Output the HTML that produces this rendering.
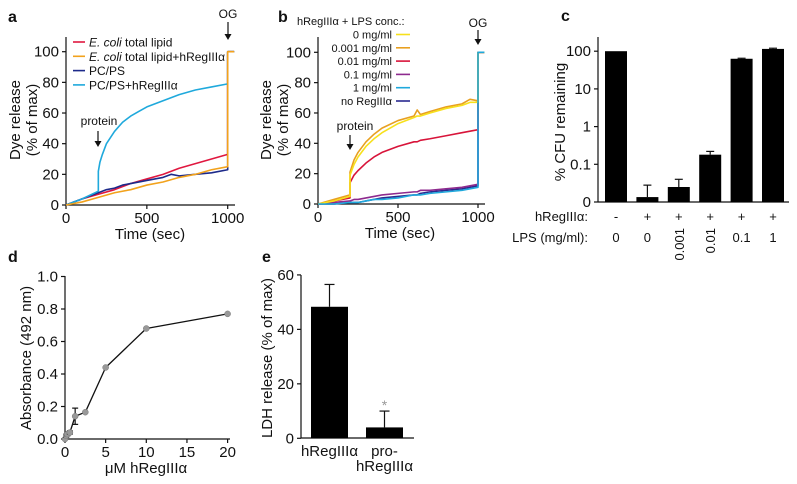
<!DOCTYPE html>
<html><head><meta charset="utf-8"><style>
html,body{margin:0;padding:0;background:#fff}
svg{display:block;font-family:"Liberation Sans",Arial,sans-serif}
</style></head><body>
<svg id="fig" width="797" height="484" viewBox="0 0 797 484" xmlns="http://www.w3.org/2000/svg"></svg>
<script>
// ---------- Panel a data ----------
const aRedT=[0,100,200,300,400,500,600,700,800,900,1000,1000,1040];
const aRedV=[0,4,7,10,14,17,20,24,27,30,33,100,100];
const aOrT=[0,100,200,300,400,500,600,700,800,900,1000,1000,1040];
const aOrV=[0,2,5,8,10,13,15,18,20,23,25,100,100];
const aNavT=[0,50,100,150,200,250,300,350,400,500,600,650,700,800,900,1000,1000,1040];
const aNavV=[0,2,4,6,8,10,11,13,14,16,18,20,19,20,21,23,100,100];
const aCyT=[0,100,200,200,210,225,250,300,350,400,450,500,600,700,800,900,1000,1000,1040];
const aCyV=[0,4,9,22,28,33,40,48,54,58,61,64,68,72,75,77,79,100,100];
const aXTicks=[0,500,1000];
const aYTicks=[0,20,40,60,80,100];
// ---------- Panel b data ----------
const bT=[0,100,200,200,225,250,300,350,400,500,600,620,640,700,800,900,950,1000,1000,1040];
const bYel=[0,2,5,19,26,31,38,43,47,53,57,58,58,60,63,65,67,67,100,100];
const bOr=[0,3,6,21,29,34,41,46,50,55,58,62,59,61,64,66,69,68,100,100];
const bRed=[0,2,4,14,19,22,27,31,34,38,41,41,42,43,45,47,48,49,100,100];
const bPur=[0,1,2,2,3,3,4,5,6,7,8,8,9,9,10,11,12,13,100,100];
const bCy=[0,0,1,1,1,1,2,3,3,4,6,6,6,7,8,9,10,11,100,100];
const bNav=[0,0,1,1,1,1,2,3,4,5,6,6,7,8,9,10,11,12,100,100];
// ---------- Panel c data ----------
const cVals=[100,0.0135,0.025,0.18,63,115];
const cErr=[100,0.028,0.04,0.22,65,120];
const cReg=['-','+','+','+','+','+'];
const cLps=['0','0','0.001','0.01','0.1','1'];
const cYTicks=[0.01,0.1,1,10,100];
const cYLabels=['0','0.1','1','10','100'];
// ---------- Panel d data ----------
const dX=[0,0.15,0.3,0.6,1.25,2.5,5,10,20];
const dY=[0,0.02,0.03,0.04,0.14,0.165,0.44,0.68,0.77];
const dE=[0,0.01,0.01,0.01,0.05,0,0,0,0];
const dXTicks=[0,5,10,15,20];
const dYTicks=[0,0.2,0.4,0.6,0.8,1.0];
// ---------- Panel e data ----------
const eCats=['hRegIIIα','pro-hRegIIIα'];
const eVals=[48.3,4];
const eErr=[56.5,10];
const eYTicks=[0,20,40,60];

const svg=document.getElementById('fig');
const NS='http://www.w3.org/2000/svg';
const TF=15;
function mk(tag,attrs,parent,text){const e=document.createElementNS(NS,tag);for(const k in attrs)e.setAttribute(k,attrs[k]);if(text!==undefined)e.textContent=text;(parent||svg).appendChild(e);return e;}
function grp(name){const g=document.createElementNS(NS,'g');


svg.appendChild(g);return g;}
function txt(g,x,y,s,size,anchor,name,extra){const t=mk('text',Object.assign({x:x,y:y,'font-size':size,'text-anchor':anchor||'start',fill:'#111'},extra||{}),g,s);


return t;}
function line(g,x1,y1,x2,y2,c,w){return mk('line',{x1:x1,y1:y1,x2:x2,y2:y2,stroke:c||'#111','stroke-width':w||1.2},g);}
function poly(g,xs,ys,sx,sy,c,name){const p=mk('polyline',{points:xs.map((x,i)=>sx(x)+','+sy(ys[i])).join(' '),fill:'none',stroke:c,'stroke-width':1.6,'stroke-linejoin':'round'},g);


return p;}
function arrow(g,x,y1,y2){line(g,x,y1,x,y2-4,'#111',1.2);mk('path',{d:`M${x-3.5},${y2-6} L${x},${y2} L${x+3.5},${y2-6} Z`,fill:'#111'},g);}

// ===== Panel a =====
(function(){
const g=grp('panel-a');
const sx=v=>66+v*0.1617, sy=v=>205-v*1.533;
txt(g,8,22,'a',16,'start','panel-label-a',{'font-weight':'bold'});
line(g,66,37,66,205);line(g,66,205,235,205);
aYTicks.forEach(v=>{line(g,62,sy(v),66,sy(v));txt(g,59,sy(v)+5,String(v),TF,'end','y-tick-a');});
aXTicks.forEach(v=>{line(g,sx(v),205,sx(v),209);txt(g,sx(v),223,String(v),TF,'middle','x-tick-a');});
txt(g,150,239,'Time (sec)',TF,'middle','x-axis-title-a');
txt(g,0,0,'Dye release',TF,'middle','y-axis-title-a',{transform:'translate(20,120) rotate(-90)'});
txt(g,0,0,'(% of max)',TF,'middle','y-axis-title-a2',{transform:'translate(37,120) rotate(-90)'});
poly(g,aRedT,aRedV,sx,sy,'#e0173f','series-ecoli');
poly(g,aNavT,aNavV,sx,sy,'#1d2a8a','series-pcps');
poly(g,aCyT,aCyV,sx,sy,'#1fa9dc','series-pcps-hregiii');
poly(g,aOrT,aOrV,sx,sy,'#f2a21c','series-ecoli-hregiii');
const L=[['#e0173f','<i>E. coli</i> total lipid'],['#f2a21c','<i>E. coli</i> total lipid+hRegIIIα'],['#1d2a8a','PC/PS'],['#1fa9dc','PC/PS+hRegIIIα']];
L.forEach((l,i)=>{const y=42+i*14.3;line(g,73,y,85,y,l[0],1.6);const t=txt(g,89,y+4.5,'',12,'start','legend-entry-a');t.innerHTML=l[1].replace(/<i>(.*?)<\/i>/,'<tspan font-style="italic">$1</tspan>');});
txt(g,228,18,'OG',12,'middle','og-label-a');arrow(g,228,22,40);
txt(g,99,125,'protein',12,'middle','protein-label-a');arrow(g,98,131,147);
})();

// ===== Panel b =====
(function(){
const g=grp('panel-b');
const sx=v=>318+v*0.16, sy=v=>204-v*1.517;
txt(g,278,22,'b',16,'start','panel-label-b',{'font-weight':'bold'});
line(g,318,37,318,204);line(g,318,204,485,204);
aYTicks.forEach(v=>{line(g,314,sy(v),318,sy(v));txt(g,311,sy(v)+5,String(v),TF,'end','y-tick-b');});
aXTicks.forEach(v=>{line(g,sx(v),204,sx(v),208);txt(g,sx(v),222,String(v),TF,'middle','x-tick-b');});
txt(g,400,238,'Time (sec)',TF,'middle','x-axis-title-b');
txt(g,0,0,'Dye release',TF,'middle','y-axis-title-b',{transform:'translate(271,120) rotate(-90)'});
txt(g,0,0,'(% of max)',TF,'middle','y-axis-title-b2',{transform:'translate(288,120) rotate(-90)'});
poly(g,bT,bNav,sx,sy,'#2a2a8f','series-no-regiii');
poly(g,bT,bPur,sx,sy,'#8e2a8e','series-0.1');
poly(g,bT,bRed,sx,sy,'#d8143a','series-0.01');
poly(g,bT,bOr,sx,sy,'#e8a020','series-0.001');
poly(g,bT,bYel,sx,sy,'#f7e01c','series-0');
poly(g,bT,bCy,sx,sy,'#1fa9dc','series-1');
txt(g,297,25,'hRegIIIα + LPS conc.:',11,'start','legend-title-b');
const L=[['#f7e01c','0 mg/ml'],['#e8a020','0.001 mg/ml'],['#d8143a','0.01 mg/ml'],['#8e2a8e','0.1 mg/ml'],['#1fa9dc','1 mg/ml'],['#2a2a8f','no RegIIIα']];
L.forEach((l,i)=>{const y=34.5+i*13.3;line(g,396,y,410,y,l[0],1.6);txt(g,392,y+4,l[1],11,'end','legend-entry-b');});
txt(g,478,27,'OG',12,'middle','og-label-b');arrow(g,478,30,45);
txt(g,355,130,'protein',12,'middle','protein-label-b');arrow(g,350,135,150);
})();

// ===== Panel c =====
(function(){
const g=grp('panel-c');
const sy=v=>202-(Math.log10(v)+2)*37.7, bx=i=>616+i*31.4;
txt(g,561,21,'c',16,'start','panel-label-c',{'font-weight':'bold'});
line(g,598,37,598,202);line(g,598,202,789,202);
cYTicks.forEach((v,i)=>{line(g,594,sy(v),598,sy(v));txt(g,591,sy(v)+5,cYLabels[i],TF,'end','y-tick-c');});
txt(g,0,0,'% CFU remaining',TF,'middle','y-axis-title-c',{transform:'translate(565,122) rotate(-90)'});
cVals.forEach((v,i)=>{const x=bx(i);
 const r=mk('rect',{x:x-11,y:sy(v),width:22,height:202-sy(v),fill:'#000'},g);
 
 
 if(cErr[i]>v){line(g,x,sy(v),x,sy(cErr[i]));line(g,x-4,sy(cErr[i]),x+4,sy(cErr[i]));}
 txt(g,x,221,cReg[i],13,'middle','hregiii-sign');
 if(cLps[i].length>3) txt(g,0,0,cLps[i],13,'end','lps-label',{transform:`translate(${x+5},228) rotate(-90)`});
 else txt(g,x,242,cLps[i],13,'middle','lps-label');
});
txt(g,588,221,'hRegIIIα:',13,'end','row-label-hregiii');
txt(g,588,242,'LPS (mg/ml):',13,'end','row-label-lps');
})();

// ===== Panel d =====
(function(){
const g=grp('panel-d');
const sx=v=>65+v*8.13, sy=v=>439-v*162.5;
txt(g,8,262,'d',16,'start','panel-label-d',{'font-weight':'bold'});
line(g,65,276,65,439);line(g,65,439,230,439);
dYTicks.forEach(v=>{line(g,61,sy(v),65,sy(v));txt(g,58,sy(v)+5,v.toFixed(1),TF,'end','y-tick-d');});
dXTicks.forEach(v=>{line(g,sx(v),439,sx(v),443);txt(g,sx(v),457,String(v),TF,'middle','x-tick-d');});
txt(g,146,473,'μM hRegIIIα',TF,'middle','x-axis-title-d');
txt(g,0,0,'Absorbance (492 nm)',TF,'middle','y-axis-title-d',{transform:'translate(31,358) rotate(-90)'});
poly(g,dX,dY,sx,sy,'#111','line-d').setAttribute('stroke-width',1.3);
dX.forEach((x,i)=>{
 if(dE[i]>0){line(g,sx(x),sy(dY[i]-dE[i]),sx(x),sy(dY[i]+dE[i]));line(g,sx(x)-3,sy(dY[i]+dE[i]),sx(x)+3,sy(dY[i]+dE[i]));line(g,sx(x)-3,sy(dY[i]-dE[i]),sx(x)+3,sy(dY[i]-dE[i]));}
 const c=mk('circle',{cx:sx(x),cy:sy(dY[i]),r:3,fill:'#999',stroke:'#777','stroke-width':0.5},g);
 
 
});
})();

// ===== Panel e =====
(function(){
const g=grp('panel-e');
const sy=v=>438.3-v*2.723, bx=i=>329.5+i*55;
txt(g,262,262,'e',16,'start','panel-label-e',{'font-weight':'bold'});
line(g,301,275,301,438);line(g,301,438,414,438);
eYTicks.forEach(v=>{line(g,297,sy(v),301,sy(v));txt(g,294,sy(v)+5,String(v),TF,'end','y-tick-e');});
txt(g,0,0,'LDH release (% of max)',TF,'middle','y-axis-title-e',{transform:'translate(272,358) rotate(-90)'});
eVals.forEach((v,i)=>{const x=bx(i);
 line(g,x,sy(v),x,sy(eErr[i]));line(g,x-5,sy(eErr[i]),x+5,sy(eErr[i]));
 const r=mk('rect',{x:x-18.5,y:sy(v),width:37,height:438.3-sy(v),fill:'#000'},g);
 
 
});
txt(g,bx(0),456,'hRegIIIα',TF,'middle','x-label-e');
txt(g,bx(1),456,'pro-',TF,'middle','x-label-e');
txt(g,bx(1),471,'hRegIIIα',TF,'middle','x-label-e');
txt(g,bx(1),410,'*',14,'middle','asterisk-e',{fill:'#999'});
})();
</script>
</body></html>
